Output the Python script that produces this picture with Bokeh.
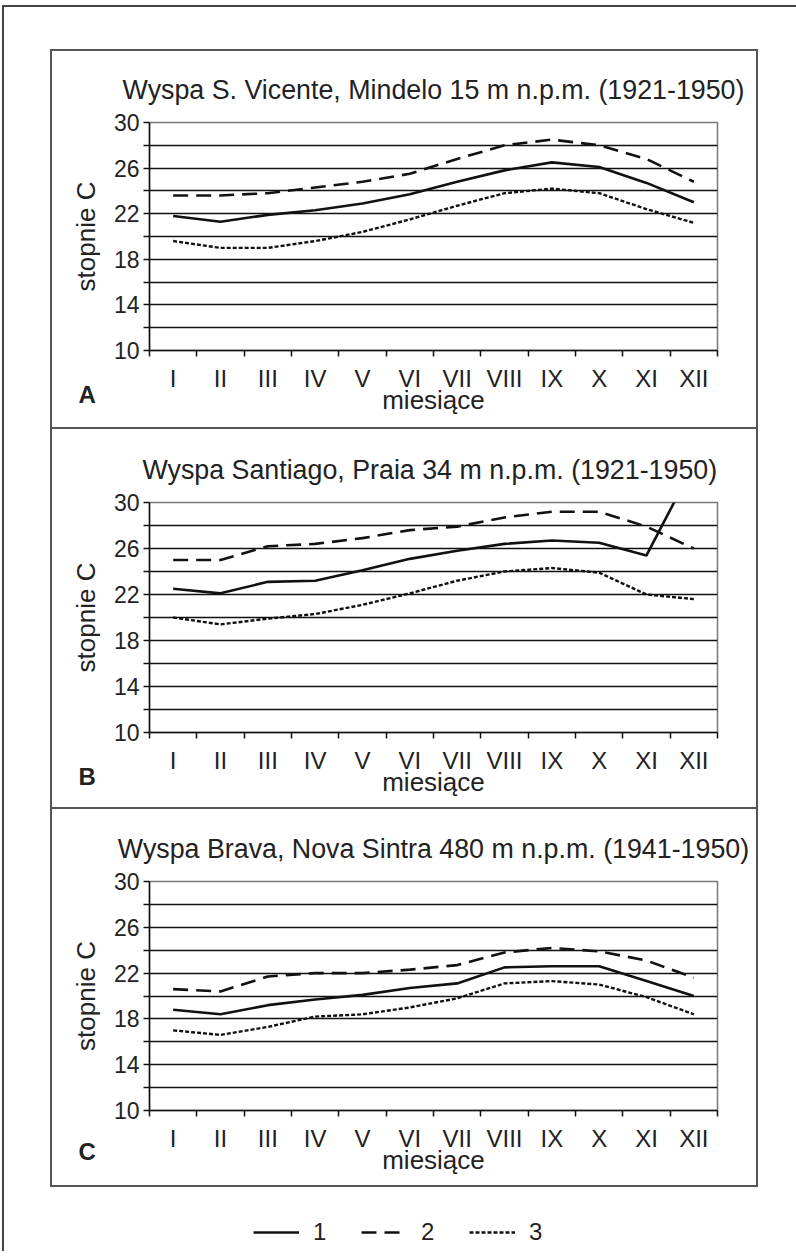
from bokeh.plotting import figure
from bokeh.models import (FactorRange, Range1d, FixedTicker, LinearAxis, Label,
                          Legend, LegendItem, Spacer)
from bokeh.layouts import column, row
from bokeh.embed import file_html
from bokeh.resources import INLINE

# ---------------- data ----------------
months = ["I", "II", "III", "IV", "V", "VI", "VII", "VIII", "IX", "X", "XI", "XII"]
y_major = [10, 14, 18, 22, 26, 30]
y_minor = [12, 16, 20, 24, 28]
legend_labels = ["1", "2", "3"]

titles = [
    "Wyspa S. Vicente, Mindelo 15 m n.p.m. (1921-1950)",
    "Wyspa Santiago, Praia  34 m n.p.m. (1921-1950)",
    "Wyspa Brava, Nova Sintra 480 m n.p.m. (1941-1950)",
]
letters = ["A", "B", "C"]

vicente_1 = [21.8, 21.3, 21.9, 22.3, 22.9, 23.7, 24.8, 25.8, 26.5, 26.1, 24.7, 23.0]
vicente_2 = [23.6, 23.6, 23.8, 24.3, 24.8, 25.5, 26.8, 28.0, 28.5, 28.0, 26.8, 24.8]
vicente_3 = [19.6, 19.0, 19.0, 19.6, 20.4, 21.5, 22.7, 23.8, 24.2, 23.8, 22.4, 21.2]

praia_1 = [22.5, 22.1, 23.1, 23.2, 24.1, 25.1, 25.8, 26.4, 26.7, 26.5, 25.4, 33.3]
praia_2 = [25.0, 25.0, 26.2, 26.4, 26.9, 27.6, 27.9, 28.7, 29.2, 29.2, 27.9, 26.0]
praia_3 = [20.0, 19.4, 19.9, 20.3, 21.1, 22.1, 23.2, 24.0, 24.3, 23.9, 22.0, 21.6]

brava_1 = [18.8, 18.4, 19.2, 19.7, 20.1, 20.7, 21.1, 22.5, 22.6, 22.6, 21.3, 20.0]
brava_2 = [20.6, 20.4, 21.7, 22.0, 22.0, 22.3, 22.7, 23.8, 24.2, 23.9, 23.1, 21.6]
brava_3 = [17.0, 16.6, 17.3, 18.2, 18.4, 19.0, 19.8, 21.1, 21.3, 21.0, 19.9, 18.4]

# ---------------- styles ----------------
FONT = "Liberation Sans"
TXT = "#222222"
INK = "#111111"
BOX = "#555555"
series_styles = [
    dict(line_dash="solid", line_width=2.6),
    dict(line_dash="15 8", line_width=2.6),
    dict(line_dash="4 2", line_width=2.4),
]
PANEL_W = 704


def make_panel(title, letter, s1, s2, s3, height, top, bottom, letter_y):
    p = figure(width=PANEL_W, height=height,
               x_range=FactorRange(*months), y_range=Range1d(10, 30),
               x_axis_location=None, output_backend="svg", toolbar_location=None,
               min_border_left=97, min_border_right=39,
               min_border_top=top, min_border_bottom=bottom,
               background_fill_color="white", border_fill_color="white")

    # x axis: month labels centred between boundary ticks
    centers = [i + 0.5 for i in range(len(months))]
    bounds = list(range(len(months) + 1))
    overrides = {}
    for c, m in zip(centers, months):
        overrides[c] = m
        overrides[str(c)] = m
    xax = LinearAxis(ticker=FixedTicker(ticks=centers, minor_ticks=bounds),
                     major_label_overrides=overrides)
    xax.axis_line_color = INK
    xax.axis_line_width = 1.5
    xax.major_tick_line_color = None
    xax.major_tick_out = 0
    xax.major_tick_in = 0
    xax.minor_tick_line_color = INK
    xax.minor_tick_line_width = 1.5
    xax.minor_tick_out = 6
    xax.minor_tick_in = 0
    xax.major_label_standoff = 8
    xax.major_label_text_font = FONT
    xax.major_label_text_font_size = "24px"
    xax.major_label_text_color = TXT
    xax.axis_label = "miesiące"
    xax.axis_label_text_font = FONT
    xax.axis_label_text_font_size = "26px"
    xax.axis_label_text_font_style = "normal"
    xax.axis_label_text_color = TXT
    xax.axis_label_standoff = -10
    p.add_layout(xax, "below")

    # y axis
    yax = p.yaxis[0]
    yax.ticker = FixedTicker(ticks=y_major, minor_ticks=y_minor)
    yax.axis_line_color = INK
    yax.axis_line_width = 1.5
    yax.major_tick_line_color = INK
    yax.major_tick_line_width = 1.5
    yax.major_tick_out = 6
    yax.major_tick_in = 0
    yax.minor_tick_line_color = INK
    yax.minor_tick_line_width = 1.5
    yax.minor_tick_out = 6
    yax.minor_tick_in = 0
    yax.major_label_standoff = 4
    yax.major_label_text_font = FONT
    yax.major_label_text_font_size = "23px"
    yax.major_label_text_color = TXT
    yax.axis_label = "stopnie C"
    yax.axis_label_text_font = FONT
    yax.axis_label_text_font_size = "26px"
    yax.axis_label_text_font_style = "normal"
    yax.axis_label_text_color = TXT
    yax.axis_label_standoff = 10

    for g in p.xgrid:
        g.visible = False
    yg = p.ygrid[0]
    yg.ticker = yax.ticker
    yg.grid_line_color = INK
    yg.grid_line_width = 1.4
    yg.minor_grid_line_color = INK
    yg.minor_grid_line_width = 1.4

    p.outline_line_color = "#777777"
    p.outline_line_width = 1.5

    p.title.text = title
    p.title.text_font = FONT
    p.title.text_font_size = "26.8px"
    p.title.text_font_style = "normal"
    p.title.text_color = TXT
    p.title.align = "center"
    p.title.standoff = 36

    for s, st in zip([s1, s2, s3], series_styles):
        p.line(x=months, y=s, line_color=INK, line_join="round", **st)

    # panel letter, below-left of the plot area (kept in a side panel so it
    # is not clipped to the plot frame)
    p.add_layout(Label(x=-1.5, y=letter_y, text=letter, text_font=FONT,
                       text_font_size="24px", text_font_style="bold",
                       text_color=TXT, text_baseline="alphabetic"), "right")
    return p


pA = make_panel(titles[0], letters[0], vicente_1, vicente_2, vicente_3, 376, 71, 77, 6.14)
pB = make_panel(titles[1], letters[1], praia_1, praia_2, praia_3, 378, 73, 75, 6.14)
pC = make_panel(titles[2], letters[2], brava_1, brava_2, brava_3, 376, 72, 75, 6.40)

# ---------------- legend ----------------
lg = figure(width=PANEL_W, height=64, x_range=Range1d(0, 1), y_range=Range1d(0, 1),
            x_axis_location=None, y_axis_location=None, min_border=0,
            output_backend="svg", toolbar_location=None)
lg.grid.visible = False
lg.outline_line_color = None
items = []
for lab, st in zip(legend_labels, series_styles):
    # legend-only renderers, kept outside the visible range
    r = lg.line(x=[5, 6], y=[5, 6], line_color=INK, **st)
    items.append(LegendItem(label=lab, renderers=[r]))
legend = Legend(items=items, orientation="horizontal", location=(201, 5),
                glyph_width=46, glyph_height=20, label_standoff=14, spacing=28,
                padding=0, margin=0, border_line_color=None, background_fill_alpha=0,
                label_text_font=FONT, label_text_font_size="24px",
                label_text_color=TXT)
lg.add_layout(legend)


# ---------------- panel frame (plain HTML lines) ----------------
def hline(w):
    return Spacer(width=w, height=2, styles={"background-color": BOX})


def vline(h):
    return Spacer(width=2, height=h, styles={"background-color": BOX})


stack_h = 376 + 2 + 378 + 2 + 376
panels = row(vline(stack_h),
             column(pA, hline(PANEL_W), pB, hline(PANEL_W), pC),
             vline(stack_h))

root = row(Spacer(width=46),
           column(Spacer(height=42), hline(PANEL_W + 4), panels, hline(PANEL_W + 4),
                  row(Spacer(width=2), lg)),
           Spacer(width=40),
           styles={"margin-left": "2px", "margin-top": "5px",
                   "border-top": "2px solid #444", "border-left": "2px solid #444"})

open("out.html", "w").write(file_html(root, INLINE))
